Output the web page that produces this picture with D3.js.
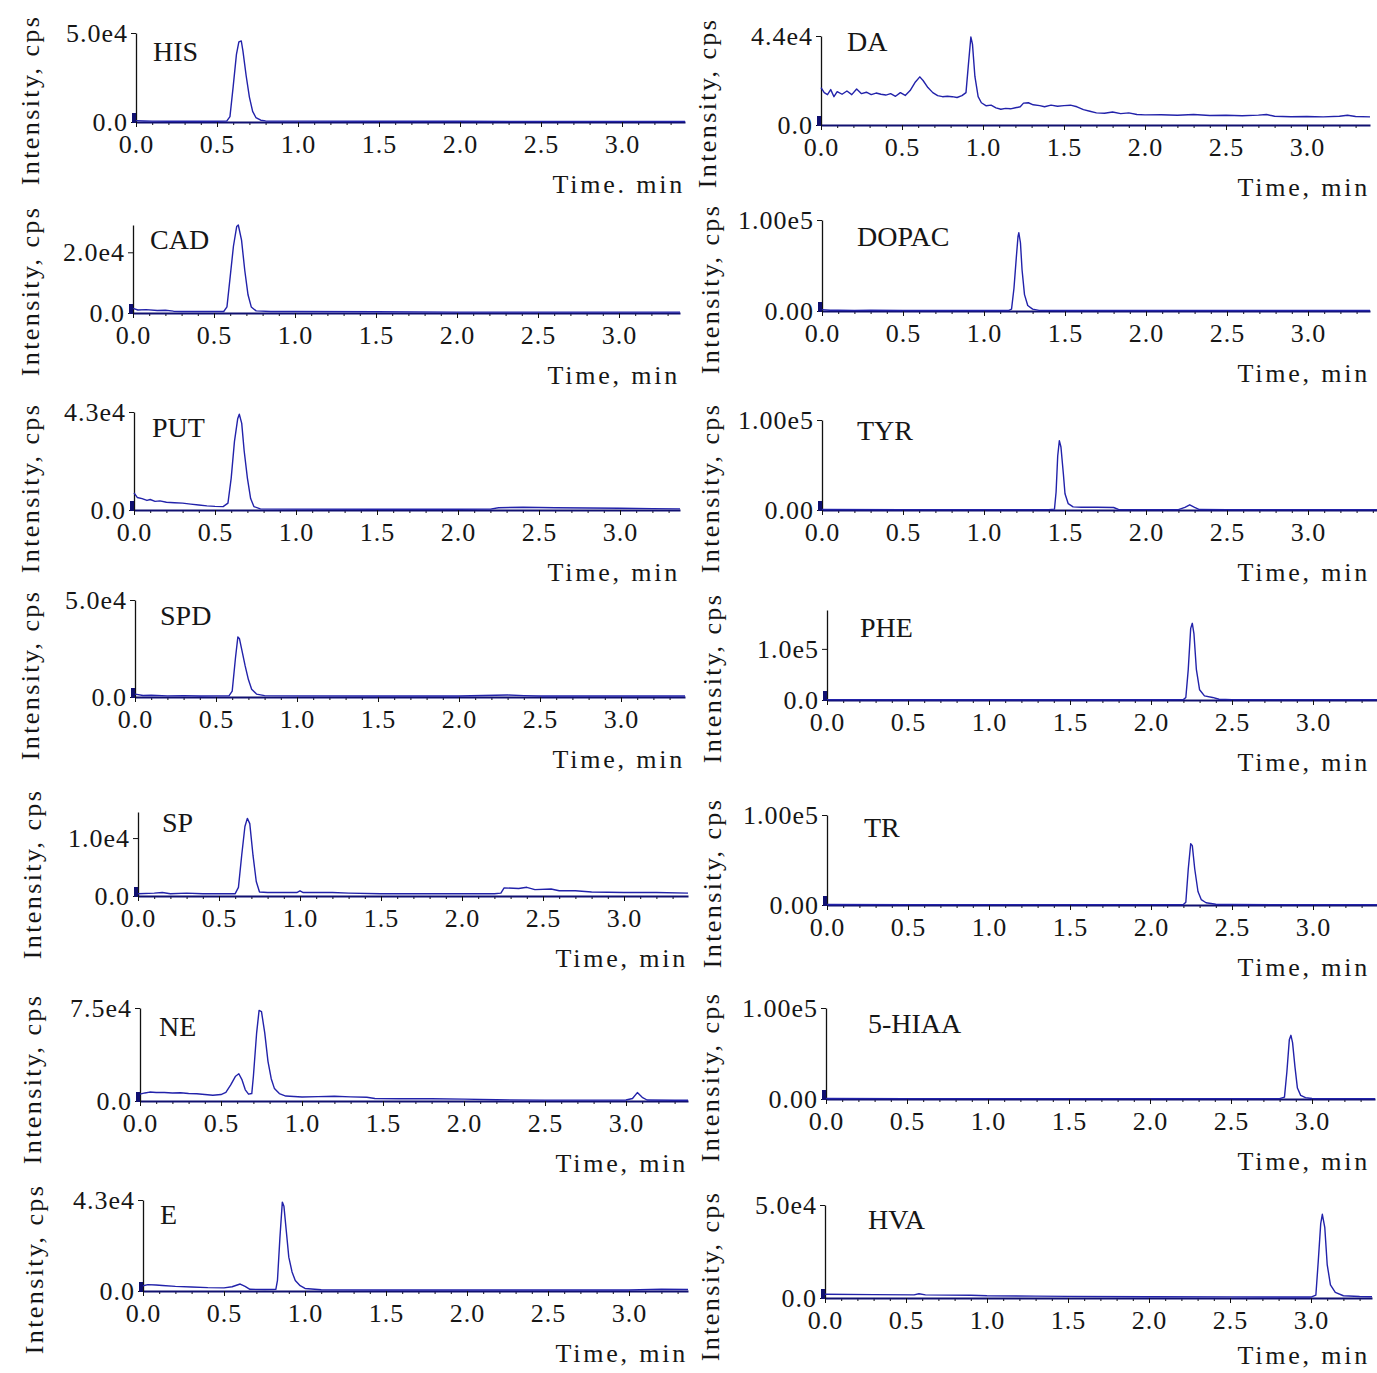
<!DOCTYPE html>
<html>
<head>
<meta charset="utf-8">
<script src="https://cdn.jsdelivr.net/npm/d3@7/dist/d3.min.js"></script>
<style>
  body { margin: 0; background: #fff; }
  svg { display: block; }
  text { font-family: "Liberation Serif", "Times New Roman", serif; fill: #161616; }
</style>
</head>
<body>
<div id="chart"></div>
<script>
// ---- chromatogram traces: [time (min), intensity (cps)] ----
var hisTrace = [[0,800],[0.05,600],[0.1,500],[0.2,450],[0.3,400],[0.4,420],[0.5,400],[0.56,500],[0.58,3000],[0.6,20000],[0.62,38000],[0.635,45000],[0.65,45500],[0.66,40000],[0.68,26000],[0.7,14000],[0.72,6000],[0.74,2500],[0.77,1000],[0.8,600],[1.0,500],[1.5,400],[2.0,400],[2.5,350],[3.0,350],[3.45,350]];
var cadTrace = [[0,1500],[0.03,1000],[0.08,1100],[0.15,800],[0.2,900],[0.25,600],[0.3,500],[0.4,500],[0.5,500],[0.56,500],[0.58,2000],[0.6,12000],[0.62,22000],[0.64,28500],[0.65,29000],[0.67,24000],[0.69,14000],[0.71,6000],[0.73,2000],[0.76,700],[0.85,500],[1.0,500],[1.5,400],[2.0,300],[2.5,300],[3.0,300],[3.45,300]];
var putTrace = [[0,7500],[0.02,5500],[0.05,5000],[0.08,4200],[0.1,4600],[0.13,3800],[0.16,4000],[0.2,3400],[0.25,3200],[0.3,3000],[0.35,2600],[0.4,2200],[0.45,1800],[0.5,1600],[0.55,1500],[0.58,3000],[0.6,14000],[0.62,30000],[0.64,40000],[0.65,42000],[0.665,38000],[0.68,26000],[0.7,14000],[0.72,5000],[0.74,1500],[0.78,500],[1.0,400],[1.5,300],[2.0,300],[2.2,400],[2.25,1000],[2.4,1200],[2.6,1000],[2.8,900],[3.0,800],[3.2,600],[3.45,500]];
var spdTrace = [[0,1500],[0.05,800],[0.1,900],[0.2,600],[0.3,700],[0.4,500],[0.5,600],[0.58,600],[0.6,3000],[0.62,20000],[0.635,31000],[0.645,30000],[0.66,24000],[0.68,16000],[0.7,9000],[0.72,4000],[0.75,1500],[0.8,700],[1.0,600],[1.5,500],[2.0,500],[2.3,1000],[2.4,700],[2.5,500],[3.0,500],[3.45,500]];
var spTrace = [[0,400],[0.1,500],[0.15,600],[0.2,400],[0.3,500],[0.4,400],[0.5,400],[0.6,400],[0.62,1500],[0.64,7000],[0.66,12000],[0.675,13400],[0.69,12500],[0.71,7000],[0.73,2500],[0.75,700],[0.8,600],[0.9,600],[0.98,600],[1.0,900],[1.02,600],[1.2,600],[1.3,500],[1.5,400],[1.8,400],[2.0,400],[2.2,400],[2.24,500],[2.26,1400],[2.35,1300],[2.4,1500],[2.45,1100],[2.55,1200],[2.6,900],[2.7,900],[2.8,700],[3.0,600],[3.2,600],[3.45,500]];
var neTrace = [[0,5500],[0.03,6500],[0.06,7200],[0.1,6800],[0.15,6900],[0.2,6500],[0.25,6600],[0.3,6000],[0.35,5800],[0.4,5200],[0.45,4600],[0.5,5200],[0.53,7000],[0.56,13000],[0.59,20000],[0.61,22000],[0.63,17000],[0.65,9000],[0.67,5500],[0.69,6000],[0.7,20000],[0.72,55000],[0.735,73000],[0.75,72000],[0.77,55000],[0.79,32000],[0.81,18000],[0.83,10000],[0.86,6000],[0.9,4000],[1.0,3200],[1.1,3500],[1.2,3800],[1.3,3300],[1.4,3000],[1.45,2000],[1.6,1800],[1.8,1800],[2.0,1500],[2.2,1000],[2.5,700],[2.8,700],[3.0,800],[3.04,2000],[3.07,6800],[3.1,3000],[3.13,800],[3.3,600],[3.45,600]];
var eTrace = [[0,2500],[0.03,3000],[0.08,2800],[0.12,2600],[0.2,2200],[0.3,1900],[0.4,1600],[0.5,1500],[0.55,2000],[0.6,3300],[0.63,2200],[0.66,800],[0.75,700],[0.82,800],[0.83,5000],[0.845,25000],[0.86,42000],[0.87,40000],[0.885,28000],[0.9,16000],[0.92,9000],[0.94,5000],[0.97,2500],[1.0,1200],[1.1,600],[1.5,500],[2.0,500],[2.5,500],[3.0,500],[3.2,800],[3.45,700]];
var daTrace = [[0,18500],[0.02,16000],[0.04,15000],[0.06,17500],[0.08,14000],[0.1,16500],[0.13,15200],[0.16,16800],[0.19,15000],[0.22,17800],[0.25,15500],[0.28,16200],[0.31,15000],[0.34,15800],[0.37,15200],[0.4,14800],[0.43,15500],[0.46,14200],[0.49,16000],[0.52,14600],[0.55,17000],[0.58,21000],[0.61,23800],[0.63,22000],[0.66,18500],[0.69,16000],[0.72,14500],[0.75,14000],[0.78,14200],[0.81,14000],[0.84,13600],[0.87,14500],[0.895,16000],[0.91,30000],[0.925,43500],[0.935,40000],[0.95,24000],[0.97,14000],[0.99,11000],[1.02,9500],[1.05,9800],[1.08,8500],[1.11,7800],[1.14,8200],[1.17,8000],[1.2,8500],[1.23,9000],[1.25,10800],[1.28,11000],[1.31,10000],[1.35,9600],[1.38,9000],[1.42,9800],[1.46,9300],[1.5,9600],[1.54,9800],[1.58,9000],[1.62,7600],[1.66,6800],[1.7,6000],[1.75,5800],[1.8,6400],[1.85,5600],[1.9,6000],[1.95,5200],[2.0,5000],[2.1,5100],[2.2,4800],[2.3,5200],[2.4,4700],[2.5,4800],[2.6,4600],[2.7,4900],[2.75,5200],[2.8,4300],[2.9,4100],[3.0,4200],[3.1,4000],[3.2,4300],[3.25,4800],[3.3,4200],[3.45,4000]];
var dopacTrace = [[0,1500],[0.05,800],[0.1,900],[0.2,700],[0.3,800],[0.5,600],[0.8,500],[1.0,500],[1.15,500],[1.17,2000],[1.185,25000],[1.2,60000],[1.21,82000],[1.215,86000],[1.225,75000],[1.235,45000],[1.25,18000],[1.27,6000],[1.3,2000],[1.34,700],[1.5,500],[2.0,500],[2.5,500],[3.0,500],[3.45,500]];
var tyrTrace = [[0,500],[0.5,400],[1.0,400],[1.4,400],[1.435,1000],[1.445,20000],[1.455,60000],[1.465,77000],[1.475,70000],[1.49,40000],[1.5,18000],[1.52,7000],[1.55,3500],[1.6,3000],[1.7,3000],[1.8,2800],[1.83,600],[2.0,400],[2.2,400],[2.24,3000],[2.27,5800],[2.3,3000],[2.33,500],[2.5,400],[3.0,400],[3.45,400]];
var pheTrace = [[0,800],[0.5,600],[1.0,600],[1.5,600],[2.0,600],[2.2,700],[2.215,5000],[2.23,60000],[2.245,140000],[2.255,150000],[2.265,130000],[2.28,60000],[2.3,20000],[2.33,8000],[2.38,5000],[2.42,1500],[2.5,800],[3.0,700],[3.45,700]];
var trTrace = [[0,500],[0.5,400],[1.0,400],[1.5,400],[2.0,400],[2.2,500],[2.215,3000],[2.23,40000],[2.245,68000],[2.255,66000],[2.27,40000],[2.29,15000],[2.31,6000],[2.34,2500],[2.4,800],[2.5,500],[3.0,400],[3.45,400]];
var hiaaTrace = [[0,500],[0.5,400],[1.0,400],[1.5,400],[2.0,400],[2.5,400],[2.8,400],[2.83,2000],[2.845,30000],[2.86,65000],[2.87,70000],[2.88,62000],[2.895,35000],[2.91,12000],[2.93,4000],[2.96,1500],[3.0,500],[3.45,400]];
var hvaTrace = [[0,2000],[0.3,1800],[0.55,1700],[0.58,2300],[0.62,1700],[0.9,1500],[1.0,1200],[1.3,1000],[1.5,900],[2.0,700],[2.5,600],[2.8,500],[3.0,500],[3.03,1500],[3.045,20000],[3.06,40000],[3.07,45000],[3.085,38000],[3.1,18000],[3.12,7000],[3.15,3000],[3.2,1200],[3.3,800],[3.45,700]];

// panel order: left column top->bottom, then right column top->bottom
var compoundNames = ["HIS","CAD","PUT","SPD","SP","NE","E","DA","DOPAC","TYR","PHE","TR","5-HIAA","HVA"];
var traces = [hisTrace,cadTrace,putTrace,spdTrace,spTrace,neTrace,eTrace,daTrace,dopacTrace,tyrTrace,pheTrace,trTrace,hiaaTrace,hvaTrace];
var yMaxima = [5.0e4,2.9e4,4.3e4,5.0e4,1.45e4,7.5e4,4.3e4,4.4e4,1.0e5,1.0e5,1.76e5,1.0e5,1.0e5,5.0e4];
var yTickValues = [5.0e4,2.0e4,4.3e4,5.0e4,1.0e4,7.5e4,4.3e4,4.4e4,1.0e5,1.0e5,1.0e5,1.0e5,1.0e5,5.0e4];
var yTickLabels = ["5.0e4","2.0e4","4.3e4","5.0e4","1.0e4","7.5e4","4.3e4","4.4e4","1.00e5","1.00e5","1.0e5","1.00e5","1.00e5","5.0e4"];
var zeroLabels = ["0.0","0.0","0.0","0.0","0.0","0.0","0.0","0.0","0.00","0.00","0.0","0.00","0.00","0.0"];
var xTitles = ["Time. min","Time, min","Time, min","Time, min","Time, min","Time, min","Time, min","Time, min","Time, min","Time, min","Time, min","Time, min","Time, min","Time, min"];
var majorTimes = [0.0,0.5,1.0,1.5,2.0,2.5,3.0];

// ---- layout (pixel frames of each panel) ----
var pxPerMin = 162;
var frames = [
  {x0:136, x1:685, top:33,   base:122,  lx:17, ly:19, ylx:30},
  {x0:133, x1:680, top:225,  base:313,  lx:17, ly:15, ylx:30},
  {x0:134, x1:680, top:412,  base:510,  lx:18, ly:16, ylx:30},
  {x0:135, x1:685, top:600,  base:697,  lx:25, ly:16, ylx:30},
  {x0:138, x1:688, top:812,  base:896,  lx:24, ly:11, ylx:32},
  {x0:140, x1:688, top:1008, base:1101, lx:19, ly:19, ylx:32},
  {x0:143, x1:688, top:1200, base:1291, lx:17, ly:15, ylx:34},
  {x0:821, x1:1370, top:36,  base:125,  lx:26, ly:6,  ylx:707},
  {x0:822, x1:1370, top:220, base:311,  lx:35, ly:17, ylx:710},
  {x0:822, x1:1377, top:420, base:510,  lx:35, ly:11, ylx:710},
  {x0:827, x1:1377, top:610, base:700,  lx:33, ly:18, ylx:712},
  {x0:827, x1:1377, top:815, base:905,  lx:37, ly:13, ylx:712},
  {x0:826, x1:1375, top:1008, base:1099, lx:42, ly:16, ylx:710},
  {x0:825, x1:1372, top:1205, base:1298, lx:43, ly:15, ylx:710}
];

var traceColor = "#2222aa";
var svg = d3.select("#chart").append("svg")
  .attr("width", 1377)
  .attr("height", 1373);

function styleTicks(sel) {
  sel.selectAll("text")
    .attr("font-size", 26)
    .attr("letter-spacing", 1)
    .attr("fill", "#161616");
}

frames.forEach(function(f, i){
  var xMax = (f.x1 - f.x0) / pxPerMin;
  var x = d3.scaleLinear().domain([0, xMax]).range([f.x0, f.x1]);
  var xLine = x.copy().clamp(true);
  var y = d3.scaleLinear().domain([0, yMaxima[i]]).range([f.base, f.top]);
  var g = svg.append("g").attr("class", "panel");

  // minor ticks on time axis
  var minor = d3.range(0, xMax + 1e-9, 0.1);
  g.append("g")
    .attr("transform", "translate(0," + f.base + ")")
    .call(d3.axisBottom(x).tickValues(minor).tickSize(3).tickSizeOuter(0).tickFormat(""))
    .call(function(a){ a.select(".domain").remove(); a.selectAll("line").attr("stroke", "#111"); });

  // major ticks + labels
  var xAxis = g.append("g")
    .attr("transform", "translate(0," + f.base + ")")
    .call(d3.axisBottom(x)
      .tickValues(majorTimes.filter(function(t){ return t <= xMax; }))
      .tickSize(5).tickSizeOuter(0).tickPadding(8)
      .tickFormat(d3.format(".1f")));
  xAxis.select(".domain").attr("stroke", "#101070").attr("stroke-width", 2);
  xAxis.selectAll("line").attr("stroke", "#111");
  styleTicks(xAxis);

  // intensity axis
  var yAxis = g.append("g")
    .attr("transform", "translate(" + f.x0 + ",0)")
    .call(d3.axisLeft(y)
      .tickValues([0, yTickValues[i]])
      .tickSize(5).tickSizeOuter(0).tickPadding(3)
      .tickFormat(function(d){ return d === 0 ? zeroLabels[i] : yTickLabels[i]; }));
  yAxis.select(".domain").attr("stroke", "#111").attr("stroke-width", 1.3);
  yAxis.selectAll("line").attr("stroke", "#111");
  styleTicks(yAxis);

  // small marker at origin
  g.append("rect")
    .attr("x", f.x0 - 4).attr("y", f.base - 9)
    .attr("width", 4).attr("height", 10)
    .attr("fill", "#101070");

  // trace
  var line = d3.line()
    .x(function(d){ return xLine(d[0]); })
    .y(function(d){ return y(d[1]); });
  g.append("path")
    .datum(traces[i])
    .attr("d", line)
    .attr("fill", "none")
    .attr("stroke", traceColor)
    .attr("stroke-width", 1.4)
    .attr("stroke-linejoin", "round");

  // compound name
  g.append("text")
    .attr("x", f.x0 + f.lx)
    .attr("y", f.top + f.ly + 9)
    .attr("font-size", 28)
    .text(compoundNames[i]);

  // axis titles (kept inside the page at the bottom edge)
  g.append("text")
    .attr("x", Math.min(f.x1, 1370))
    .attr("y", Math.min(f.base + 71, 1364))
    .attr("text-anchor", "end")
    .attr("font-size", 26)
    .attr("letter-spacing", 2.8)
    .text(xTitles[i]);

  g.append("text")
    .attr("transform", "translate(" + (f.ylx + 9) + "," + (f.base - 22) + ") rotate(-90)")
    .attr("text-anchor", "middle")
    .attr("font-size", 26)
    .attr("letter-spacing", 2.4)
    .text("Intensity, cps");
});
</script>
</body>
</html>
